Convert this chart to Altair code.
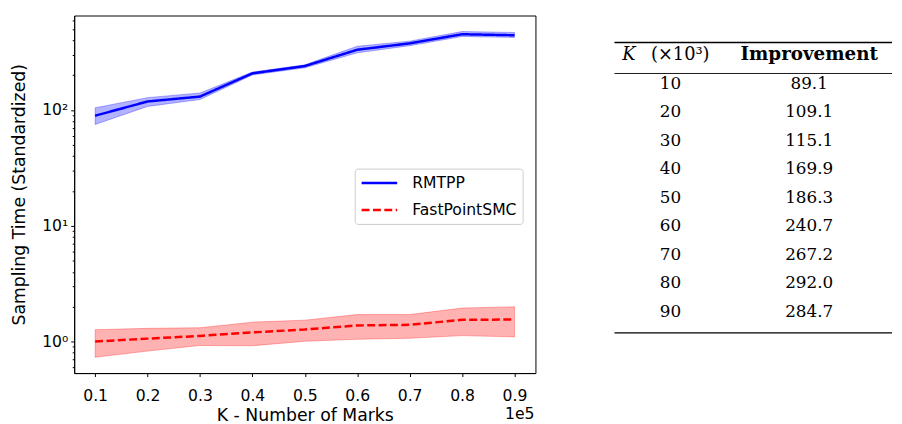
import altair as alt
import pandas as pd

# ---------------- data ----------------
x_vals = [0.1, 0.2, 0.3, 0.4, 0.5, 0.6, 0.7, 0.8, 0.9]  # K in units of 1e5
series_names = ["RMTPP", "FastPointSMC"]

rmtpp_mean = [89.4, 118.6, 130.8, 207.5, 240.0, 332.0, 377.0, 452.0, 443.0]
rmtpp_low = [75.0, 107.5, 123.3, 201.0, 232.0, 312.0, 360.0, 432.0, 424.0]
rmtpp_high = [104.6, 128.0, 140.4, 213.0, 246.0, 356.0, 394.0, 477.0, 468.0]

fps_mean = [1.0, 1.06, 1.118, 1.2, 1.27, 1.377, 1.395, 1.54, 1.55]
fps_low = [0.731, 0.827, 0.925, 0.919, 1.006, 1.046, 1.067, 1.125, 1.097]
fps_high = [1.265, 1.30, 1.316, 1.47, 1.53, 1.71, 1.71, 1.946, 1.997]

table_k = [10, 20, 30, 40, 50, 60, 70, 80, 90]
table_improvement = [89.1, 109.1, 115.1, 169.9, 186.3, 240.7, 267.2, 292.0, 284.7]

y_major = [1, 10, 100]
y_minor = [0.6, 0.7, 0.8, 0.9, 2, 3, 4, 5, 6, 7, 8, 9,
           20, 30, 40, 50, 60, 70, 80, 90, 200, 300, 400, 500, 600]

# ---------------- frames ----------------
rows = []
for name, m, lo, hi in [("RMTPP", rmtpp_mean, rmtpp_low, rmtpp_high),
                        ("FastPointSMC", fps_mean, fps_low, fps_high)]:
    for x, a, b, c in zip(x_vals, m, lo, hi):
        rows.append({"series": name, "x": x, "mean": a, "low": b, "high": c})
df = pd.DataFrame(rows)

SANS = "DejaVu Sans"
SERIF = "DejaVu Serif"
W, H = 467, 362
FS = 15.8

xscale = alt.Scale(domain=[0.06, 0.94], nice=False, zero=False)
yscale = alt.Scale(type="log", domain=[0.534, 656], nice=False)

xaxis = alt.Axis(values=x_vals, format=".1f", title="K - Number of Marks",
                 grid=False, tickSize=3.5, tickColor="black", domainColor="black",
                 labelFont=SANS, labelFontSize=FS, labelColor="black", labelPadding=12,
                 titleFont=SANS, titleFontSize=17.5, titleFontWeight="normal",
                 titleColor="black", titlePadding=4, labelFlush=False)

major_test = "datum.value == 1 || datum.value == 10 || datum.value == 100"
yaxis = alt.Axis(values=y_minor + y_major,
                 labelExpr="datum.value == 1 ? '10⁰' : datum.value == 10 ? '10¹' : datum.value == 100 ? '10²' : ''",
                 tickSize={"condition": {"test": major_test, "value": 3.5}, "value": 2},
                 labelFontSize={"condition": {"test": major_test, "value": FS}, "value": 0},
                 grid=False, tickColor="black", domainColor="black",
                 labelFont=SANS, labelColor="black", labelPadding=3,
                 labelOverlap=False, labelFlush=False,
                 title="Sampling Time (Standardized)", titleFont=SANS, titleFontSize=17.5,
                 titleFontWeight="normal", titleColor="black", titlePadding=13)

base = alt.Chart(df)

band_blue = base.transform_filter(alt.datum.series == "RMTPP").mark_area(
    color="#0000ff", fillOpacity=0.3, stroke="#0000ff", strokeOpacity=0.3, strokeWidth=1
).encode(x=alt.X("x:Q", scale=xscale, axis=xaxis),
         y=alt.Y("low:Q", scale=yscale, axis=yaxis), y2="high:Q")

band_red = base.transform_filter(alt.datum.series == "FastPointSMC").mark_area(
    color="#ff0000", fillOpacity=0.3, stroke="#ff0000", strokeOpacity=0.3, strokeWidth=1
).encode(x=alt.X("x:Q", scale=xscale, axis=xaxis),
         y=alt.Y("low:Q", scale=yscale, axis=yaxis), y2="high:Q")

legend = alt.Legend(title=None, orient="none", legendX=284, legendY=155,
                    symbolType="M-1,0L3.8,0", symbolSize=225, symbolStrokeWidth=2.5,
                    labelFont=SANS, labelFontSize=FS, labelColor="black", labelOffset=34.7,
                    padding=5.5, fillColor="white", strokeColor="#cccccc", cornerRadius=3,
                    rowPadding=10.4)

lines = base.mark_line(strokeWidth=2.5).encode(
    x=alt.X("x:Q", scale=xscale, axis=xaxis),
    y=alt.Y("mean:Q", scale=yscale, axis=yaxis),
    color=alt.Color("series:N", sort=series_names,
                    scale=alt.Scale(domain=series_names, range=["#0000ff", "#ff0000"]),
                    legend=legend),
    strokeDash=alt.StrokeDash("series:N", sort=series_names,
                              scale=alt.Scale(domain=series_names, range=[[1, 0], [8, 3.5]]),
                              legend=legend),
)

offset_text = alt.Chart(pd.DataFrame({"t": ["1e5"]})).mark_text(
    align="right", baseline="alphabetic", font=SANS, fontSize=FS, color="black"
).encode(text="t:N", x=alt.value(W - 1), y=alt.value(H + 46.5))

left = alt.layer(band_blue, band_red, lines, offset_text).properties(
    width=W, height=H,
    view=alt.ViewBackground(stroke="black", strokeWidth=1),
)

# ---------------- table ----------------
TW = 281
trows = []
for i, (k, v) in enumerate(zip(table_k, table_improvement), start=1):
    trows.append({"row": i, "col": "K", "text": str(k)})
    trows.append({"row": i, "col": "Improvement", "text": f"{v:.1f}"})
tdf = pd.DataFrame(trows)

tx = alt.X("col:N", sort=["K", "Improvement"],
           scale=alt.Scale(type="point", domain=["K", "Improvement"],
                           paddingOuter=0.4894, align=0.403), axis=None)
tyscale = alt.Scale(domain=[-1.557, 10.969], reverse=True, nice=False, zero=False)
ty = alt.Y("row:Q", scale=tyscale, axis=None)

cells = alt.Chart(tdf).mark_text(
    font=SERIF, fontSize=17, align="center", baseline="alphabetic", color="black"
).encode(x=tx, y=ty, text="text:N")

hdr = pd.DataFrame({"row": [0], "col": ["K"]})
hdr_imp = pd.DataFrame({"row": [0], "col": ["Improvement"], "text": ["Improvement"]})

hdr_k = alt.Chart(hdr.assign(text="K")).mark_text(
    font=SERIF, fontSize=18, fontStyle="italic", align="center",
    baseline="alphabetic", color="black", dx=-42
).encode(x=tx, y=ty, text="text:N")
hdr_unit = alt.Chart(hdr.assign(text="(×10³)")).mark_text(
    font=SERIF, fontSize=18, align="center", baseline="alphabetic", color="black", dx=10
).encode(x=tx, y=ty, text="text:N")
hdr_i = alt.Chart(hdr_imp).mark_text(
    font=SERIF, fontSize=18.5, fontWeight="bold", align="center",
    baseline="alphabetic", color="black"
).encode(x=tx, y=ty, text="text:N")

rule_rows_thick = [-0.612, 9.56]
rule_rows_thin = [0.474]
rules_thick = alt.Chart(pd.DataFrame({"row": rule_rows_thick})).mark_rule(
    color="black", strokeWidth=1.4).encode(y=ty)
rules_thin = alt.Chart(pd.DataFrame({"row": rule_rows_thin})).mark_rule(
    color="black", strokeWidth=0.9).encode(y=ty)

table = alt.layer(rules_thick, rules_thin, cells, hdr_k, hdr_unit, hdr_i).properties(
    width=TW, height=H,
    view=alt.ViewBackground(stroke="transparent"),
)

chart = alt.hconcat(left, table, spacing=77).properties(
    padding={"left": 2, "top": 4, "right": 0, "bottom": 0}
).configure_view(stroke="transparent").configure(background="white")

chart.save("out.html", embed_options={"renderer": "svg", "actions": False})
